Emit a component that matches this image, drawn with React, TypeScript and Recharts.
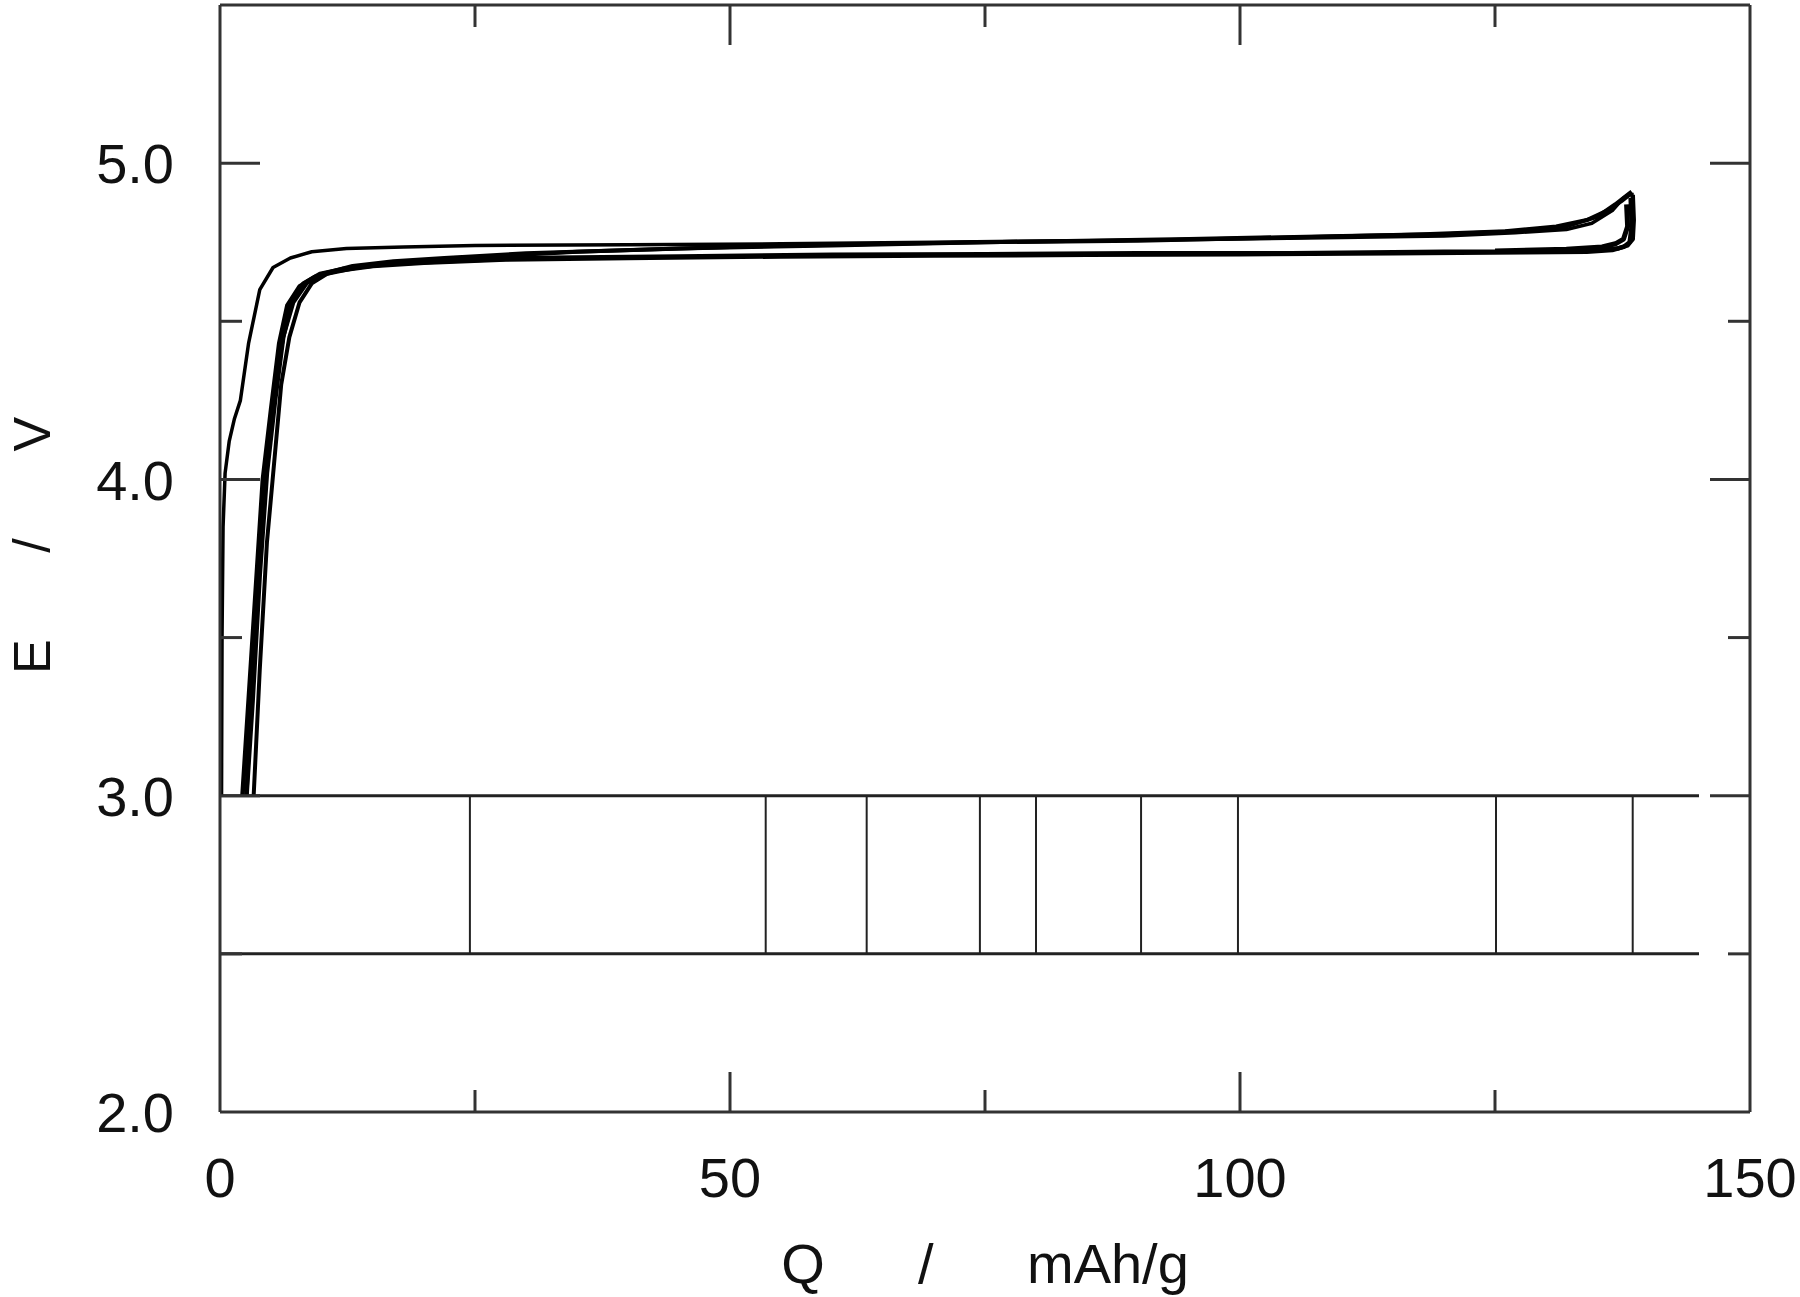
import React from 'react';
import { LineChart, Line, XAxis, YAxis, ReferenceLine, Label } from 'recharts';

// axis ticks
const qTicks = [0, 25, 50, 75, 100, 125, 150];
const qLabels = [0, 50, 100, 150];
const eTicks = [2, 2.5, 3, 3.5, 4, 4.5, 5, 5.5];
const eLabels = [2, 3, 4, 5];

// first charge (thin curve starting at Q = 0)
const charge1Q = [0.15, 0.2, 0.3, 0.5, 0.9, 1.4, 2.0, 2.8, 3.9, 5.2, 6.9, 9.0, 12.4, 18, 25, 40, 55, 70, 85, 100, 110, 120, 127, 132, 134.5, 136.5, 137.6, 138.3];
const charge1E = [3.0, 3.5, 3.85, 4.02, 4.12, 4.19, 4.25, 4.43, 4.6, 4.67, 4.7, 4.72, 4.73, 4.735, 4.74, 4.742, 4.745, 4.75, 4.755, 4.76, 4.765, 4.77, 4.78, 4.79, 4.81, 4.85, 4.89, 4.905];

// later charges
const charge2Q = [2.6, 3.2, 3.9, 4.6, 5.4, 6.2, 7.2, 8.5, 10, 13, 17, 22, 30, 45, 60, 75, 90, 105, 118, 126, 131, 134, 136, 137.4, 138.2, 138.6];
const charge2E = [3.0, 3.4, 3.8, 4.05, 4.3, 4.45, 4.56, 4.62, 4.65, 4.675, 4.69, 4.7, 4.715, 4.73, 4.74, 4.75, 4.755, 4.765, 4.775, 4.785, 4.8, 4.82, 4.85, 4.88, 4.9, 4.9];
const charge3Q = [3.3, 3.9, 4.6, 5.3, 6.0, 6.8, 7.8, 9.0, 10.5, 13.5, 18, 24, 35, 50, 65, 80, 95, 110, 120, 127, 132, 135, 136.8, 137.8, 138.4];
const charge3E = [3.0, 3.4, 3.8, 4.05, 4.3, 4.45, 4.56, 4.62, 4.65, 4.67, 4.685, 4.7, 4.72, 4.735, 4.745, 4.752, 4.76, 4.77, 4.775, 4.785, 4.8, 4.83, 4.87, 4.895, 4.91];

// discharges (run back to the left)
const discharge1Q = [138.5, 138.6, 138.5, 138.0, 137.0, 135, 130, 120, 105, 90, 75, 60, 45, 30, 22, 16, 12, 9.8, 8.2, 7.0, 6.2, 5.4, 4.6, 3.9, 3.2, 2.6];
const discharge1E = [4.9, 4.82, 4.76, 4.74, 4.73, 4.725, 4.72, 4.72, 4.715, 4.715, 4.712, 4.71, 4.705, 4.7, 4.69, 4.68, 4.665, 4.65, 4.62, 4.56, 4.45, 4.25, 4.02, 3.7, 3.3, 3.0];
const discharge2Q = [138.3, 138.4, 138.2, 137.6, 136.5, 134, 128, 115, 100, 85, 70, 55, 40, 28, 20, 15, 11.5, 9.3, 7.8, 6.6, 5.8, 5.0, 4.2, 3.5, 2.8, 2.2];
const discharge2E = [4.89, 4.8, 4.75, 4.735, 4.725, 4.72, 4.718, 4.715, 4.712, 4.71, 4.708, 4.705, 4.7, 4.695, 4.685, 4.675, 4.66, 4.64, 4.61, 4.55, 4.43, 4.22, 4.0, 3.65, 3.3, 3.0];
const discharge3Q = [137.9, 138.0, 137.6, 136.8, 135.5, 132, 125];
const discharge3E = [4.87, 4.8, 4.76, 4.745, 4.735, 4.728, 4.722];

// the box between 2.5 V and 3.0 V
const boxEdges = [3.0, 2.5];
const boxRun = [0, 145];
const boxDividers = [24.5, 53.5, 63.4, 74.5, 80.0, 90.3, 99.8, 125.1, 138.5];

const xTitle = 'Q      /      mAh/g';
const yTitle = 'E      /      V';

const FONT = '"Liberation Sans", Arial, sans-serif';
const AXIS = '#333';
const INK = '#111';
const MAJOR = 40;
const MINOR = 22;

const toPoints = (q: number[], e: number[]) => q.map((v, i) => ({ q: v, e: e[i] }));

const series = [
  { name: 'charge1', data: toPoints(charge1Q, charge1E), width: 3.5 },
  { name: 'charge2', data: toPoints(charge2Q, charge2E), width: 4 },
  { name: 'charge3', data: toPoints(charge3Q, charge3E), width: 4 },
  { name: 'discharge1', data: toPoints(discharge1Q, discharge1E), width: 4.5 },
  { name: 'discharge2', data: toPoints(discharge2Q, discharge2E), width: 4.5 },
  { name: 'discharge3', data: toPoints(discharge3Q, discharge3E), width: 5 },
];

const isEdgeE = (v: number) => v === 2 || v === 5.5;
const isEdgeQ = (v: number) => v === 0 || v === 150;

const LeftTick = (props: any) => {
  const { x, y, payload } = props;
  const v = payload.value;
  const major = eLabels.includes(v);
  return (
    <g>
      {!isEdgeE(v) && <line x1={x} y1={y} x2={x + (major ? MAJOR : MINOR)} y2={y} stroke={AXIS} strokeWidth={3} />}
      {major && (
        <text x={x - 46} y={y} dy="0.36em" textAnchor="end" fontFamily={FONT} fontSize={56} fill={INK}>
          {v.toFixed(1)}
        </text>
      )}
    </g>
  );
};

const RightTick = (props: any) => {
  const { x, y, payload } = props;
  const v = payload.value;
  if (isEdgeE(v)) return <g />;
  const major = eLabels.includes(v);
  return <line x1={x} y1={y} x2={x - (major ? MAJOR : MINOR)} y2={y} stroke={AXIS} strokeWidth={3} />;
};

const BottomTick = (props: any) => {
  const { x, y, payload } = props;
  const v = payload.value;
  const major = qLabels.includes(v);
  return (
    <g>
      {!isEdgeQ(v) && <line x1={x} y1={y} x2={x} y2={y - (major ? MAJOR : MINOR)} stroke={AXIS} strokeWidth={3} />}
      {major && (
        <text x={x} y={y + 85} textAnchor="middle" fontFamily={FONT} fontSize={56} fill={INK}>
          {v}
        </text>
      )}
    </g>
  );
};

const TopTick = (props: any) => {
  const { x, y, payload } = props;
  const v = payload.value;
  if (isEdgeQ(v)) return <g />;
  const major = qLabels.includes(v);
  return <line x1={x} y1={y} x2={x} y2={y + (major ? MAJOR : MINOR)} stroke={AXIS} strokeWidth={3} />;
};

const XTitle = (props: any) => {
  const { x, y, width } = props.viewBox;
  return (
    <text x={x + width / 2} y={y + 171} textAnchor="middle" fontFamily={FONT} fontSize={56} fill={INK} style={{ whiteSpace: 'pre' }}>
      {xTitle}
    </text>
  );
};

const YTitle = (props: any) => {
  const { x, y, height } = props.viewBox;
  const cx = x - 50;
  const cy = y + height / 2 - 13;
  return (
    <text x={cx} y={cy} transform={`rotate(-90, ${cx}, ${cy})`} textAnchor="middle" fontFamily={FONT} fontSize={52} fill={INK} style={{ whiteSpace: 'pre' }}>
      {yTitle}
    </text>
  );
};

const App: React.FC = () => {
  return (
    <div style={{ position: 'absolute', left: 0, top: 0, width: 1800, height: 1297, background: '#fff' }}>
      <LineChart width={1800} height={1297} margin={{ top: 4, right: 0, bottom: 65, left: 100 }}>
        <XAxis
          xAxisId="bottom"
          orientation="bottom"
          type="number"
          dataKey="q"
          domain={[0, 150]}
          ticks={qTicks}
          interval={0}
          allowDataOverflow
          height={120}
          tickSize={0}
          tickMargin={0}
          tickLine={false}
          tick={BottomTick}
          axisLine={{ stroke: AXIS, strokeWidth: 3 }}
        >
          <Label content={XTitle} />
        </XAxis>
        <XAxis
          xAxisId="top"
          orientation="top"
          type="number"
          dataKey="q"
          domain={[0, 150]}
          ticks={qTicks}
          interval={0}
          allowDataOverflow
          height={1}
          tickSize={0}
          tickMargin={0}
          tickLine={false}
          tick={TopTick}
          axisLine={{ stroke: AXIS, strokeWidth: 3 }}
        />
        <YAxis
          yAxisId="left"
          orientation="left"
          type="number"
          dataKey="e"
          domain={[2, 5.5]}
          ticks={eTicks}
          interval={0}
          allowDataOverflow
          width={120}
          tickSize={0}
          tickMargin={0}
          tickLine={false}
          tick={LeftTick}
          axisLine={{ stroke: AXIS, strokeWidth: 3 }}
        >
          <Label content={YTitle} />
        </YAxis>
        <YAxis
          yAxisId="right"
          orientation="right"
          type="number"
          dataKey="e"
          domain={[2, 5.5]}
          ticks={eTicks}
          interval={0}
          allowDataOverflow
          width={50}
          tickSize={0}
          tickMargin={0}
          tickLine={false}
          tick={RightTick}
          axisLine={{ stroke: AXIS, strokeWidth: 3 }}
        />

        {boxEdges.map((e) => (
          <ReferenceLine
            key={`h-${e}`}
            xAxisId="bottom"
            yAxisId="left"
            segment={[{ x: boxRun[0], y: e }, { x: boxRun[1], y: e }]}
            stroke="#222"
            strokeWidth={3}
            ifOverflow="visible"
          />
        ))}
        {boxDividers.map((q) => (
          <ReferenceLine
            key={`v-${q}`}
            xAxisId="bottom"
            yAxisId="left"
            segment={[{ x: q, y: boxEdges[1] }, { x: q, y: boxEdges[0] }]}
            stroke="#222"
            strokeWidth={2}
            ifOverflow="visible"
          />
        ))}

        {series.map((s) => (
          <Line
            key={s.name}
            xAxisId="bottom"
            yAxisId="left"
            data={s.data}
            dataKey="e"
            type="linear"
            stroke="#000"
            strokeWidth={s.width}
            strokeLinejoin="round"
            dot={false}
            activeDot={false}
            isAnimationActive={false}
          />
        ))}
      </LineChart>
    </div>
  );
};

export default App;
